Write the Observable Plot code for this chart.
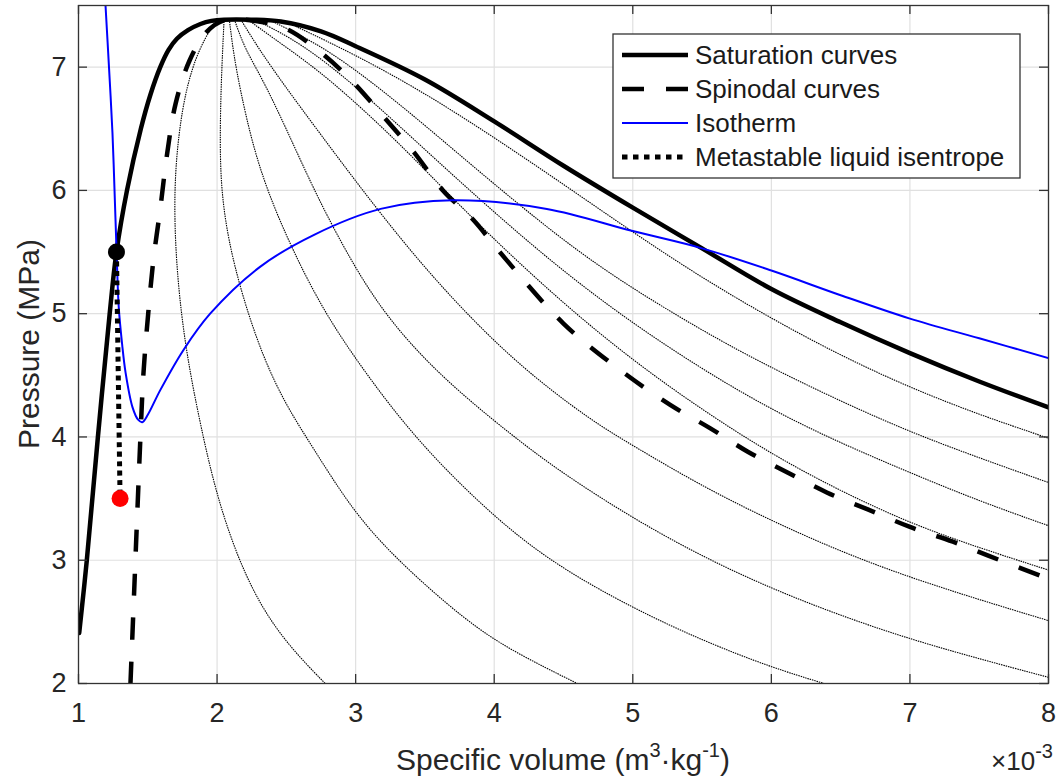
<!DOCTYPE html>
<html><head><meta charset="utf-8">
<script src="https://cdn.jsdelivr.net/npm/d3@7"></script>
<script src="https://cdn.jsdelivr.net/npm/@observablehq/plot@0.6"></script>
<style>
body{margin:0;background:#fff;}
</style></head><body><div id="chart"></div>
<script>
// ---------- data (specific volume in 1e-3 m3/kg, pressure in MPa) ----------
const xTicks = [1, 2, 3, 4, 5, 6, 7, 8];
const yTicks = [2, 3, 4, 5, 6, 7];

const satV = [1.005, 1.06, 1.14, 1.225, 1.274, 1.35, 1.45, 1.52, 1.59, 1.65, 1.71, 1.79, 1.88, 1.96, 2.05, 2.25, 2.46, 2.75, 3.0, 3.5, 4.0, 4.5, 5.0, 5.5, 6.0, 6.5, 7.0, 7.5, 8.0];
const satP = [2.41, 3.0, 4.0, 5.0, 5.5, 6.0, 6.5, 6.78, 7.0, 7.14, 7.23, 7.30, 7.35, 7.375, 7.385, 7.385, 7.37, 7.29, 7.17, 6.9, 6.56, 6.2, 5.86, 5.53, 5.2, 4.93, 4.68, 4.45, 4.24];

const spinV = [1.375, 1.40, 1.426, 1.447, 1.469, 1.503, 1.541, 1.59, 1.64, 1.70, 1.80, 1.92, 2.05, 2.3, 2.5, 2.77, 2.98, 3.2, 3.42, 3.63, 3.85, 4.04, 4.5, 4.9, 5.27, 5.56, 5.83, 6.12, 6.4, 6.7, 7.0, 7.31, 7.65, 8.0];
const spinP = [2.0, 2.7, 3.43, 4.0, 4.52, 5.0, 5.44, 5.85, 6.3, 6.7, 7.05, 7.28, 7.38, 7.37, 7.31, 7.1, 6.88, 6.6, 6.31, 6.0, 5.76, 5.5, 4.92, 4.55, 4.26, 4.07, 3.88, 3.71, 3.55, 3.41, 3.27, 3.15, 3.0, 2.85];

const isoV = [1.195, 1.22, 1.245, 1.26, 1.275, 1.29, 1.315, 1.34, 1.39, 1.43, 1.46, 1.50, 1.59, 1.76, 1.95, 2.31, 2.7, 3.18, 3.7, 4.38, 5.0, 5.5, 6.0, 6.5, 7.0, 7.5, 8.0];
const isoP = [7.5, 7.0, 6.47, 6.0, 5.5, 5.06, 4.75, 4.52, 4.24, 4.14, 4.12, 4.18, 4.38, 4.71, 5.0, 5.38, 5.64, 5.85, 5.92, 5.85, 5.67, 5.53, 5.35, 5.15, 4.96, 4.8, 4.64];

const metaV = [1.274, 1.287, 1.30];
const metaP = [5.5, 4.5, 3.5];

const stateV = [1.274, 1.30];
const stateP = [5.5, 3.5];
const stateColor = ["black", "red"];

const isen1 = [[1.97,7.34],[1.87,7.15],[1.78,6.85],[1.72,6.45],[1.69,6.0],[1.70,5.5],[1.74,5.0],[1.80,4.55],[1.88,4.1],[1.98,3.6],[2.12,3.1],[2.3,2.65],[2.52,2.3],[2.78,2.0]];
const isen2 = [[2.05,7.37],[2.03,6.9],[2.02,6.4],[2.03,6.0],[2.08,5.6],[2.18,5.15],[2.33,4.65],[2.5,4.25],[2.7,3.9],[2.95,3.45],[3.25,3.05],[3.8,2.5],[4.15,2.25],[4.6,2.0]];
const isen3 = [[2.09,7.37],[2.12,7.1],[2.17,6.8],[2.25,6.4],[2.36,6.0],[2.55,5.5],[2.78,5.0],[3.05,4.55],[3.42,4.0],[3.9,3.45],[4.38,3.0],[5.0,2.61],[5.5,2.35],[6.0,2.13],[6.38,2.0]];
const isen4 = [[2.13,7.37],[2.2,7.15],[2.33,6.9],[2.5,6.5],[2.70,6.0],[2.93,5.5],[3.2,5.0],[3.6,4.5],[4.14,4.0],[4.5,3.7],[5.0,3.34],[5.5,3.03],[6.0,2.77],[6.5,2.55],[7.0,2.36],[7.5,2.2],[8.0,2.05]];
const isen5 = [[2.18,7.37],[2.3,7.15],[2.48,6.86],[2.75,6.45],[3.05,6.0],[3.4,5.5],[3.78,5.02],[4.2,4.56],[4.69,4.14],[5.0,3.93],[5.5,3.6],[6.0,3.32],[6.5,3.07],[7.0,2.86],[7.5,2.68],[8.0,2.51]];
const isen6 = [[2.24,7.37],[2.45,7.2],[2.8,6.92],[3.3,6.4],[3.6,6.05],[4.0,5.6],[4.5,5.08],[5.0,4.62],[5.5,4.22],[6.0,3.86],[6.5,3.56],[7.0,3.3],[7.5,3.1],[8.0,2.92]];
const isen7 = [[2.3,7.37],[2.6,7.2],[3.0,6.85],[3.5,6.33],[4.0,5.82],[4.5,5.34],[5.0,4.92],[5.5,4.55],[6.0,4.22],[6.5,3.95],[7.0,3.71],[7.5,3.48],[8.0,3.28]];
const isen8 = [[2.4,7.37],[2.8,7.15],[3.3,6.72],[3.8,6.24],[4.3,5.77],[4.8,5.34],[5.5,4.86],[6.0,4.56],[6.5,4.29],[7.0,4.04],[7.5,3.83],[8.0,3.63]];
const isen9 = [[2.55,7.34],[3.0,7.1],[3.5,6.79],[4.0,6.43],[4.5,6.05],[5.0,5.66],[5.5,5.29],[6.0,4.96],[6.5,4.66],[7.0,4.40],[7.5,4.18],[8.0,3.99]];

const legendLabels = ["Saturation curves", "Spinodal curves", "Isotherm", "Metastable liquid isentrope"];
const xLabel = ["Specific volume (m", "3", "\u00b7kg", "-1", ")"];
const yLabel = "Pressure (MPa)";
const xExponent = ["\u00d710", "-3"];

// ---------- build tables ----------
const pairs = (V, P) => V.map((v, i) => ({v, p: P[i]}));
const satRows = pairs(satV, satP);
const spinRows = pairs(spinV, spinP);
const isoRows = pairs(isoV, isoP);
const metaRows = pairs(metaV, metaP);
const stateRows = stateV.map((v, i) => ({v, p: stateP[i], c: stateColor[i]}));
const isenRows = [isen1, isen2, isen3, isen4, isen5, isen6, isen7, isen8, isen9]
  .flatMap((s, k) => s.map(([v, p]) => ({v, p, id: k})));

// ---------- layout ----------
const W = 1060, H = 783, mL = 78, mR = 12, mT = 5, mB = 100;
const pw = W - mL - mR, ph = H - mT - mB, tk = 9;
const axisColor = "#333333";
const FONT = "'Liberation Sans', Arial, Helvetica, sans-serif";

const plot = Plot.plot({
  width: W, height: H,
  marginLeft: mL, marginRight: mR, marginTop: mT, marginBottom: mB,
  x: {domain: [1, 8]},
  y: {domain: [2, 7.5]},
  style: {fontFamily: FONT, background: "white", color: "#262626"},
  marks: [
    Plot.gridX(xTicks, {stroke: "#e0e0e0", strokeOpacity: 1, strokeWidth: 1.2}),
    Plot.gridY(yTicks, {stroke: "#e0e0e0", strokeOpacity: 1, strokeWidth: 1.2}),
    Plot.line(isenRows, {x: "v", y: "p", z: "id", stroke: "#000", strokeWidth: 1.1, strokeDasharray: "1.5,0.9", strokeLinecap: "butt", curve: "basis", clip: true}),
    Plot.line(spinRows, {x: "v", y: "p", stroke: "black", strokeWidth: 4.5, strokeDasharray: "22,22", strokeLinecap: "butt", curve: "catmull-rom", clip: true}),
    Plot.line(satRows, {x: "v", y: "p", stroke: "black", strokeWidth: 4.5, curve: "catmull-rom", clip: true}),
    Plot.line(isoRows, {x: "v", y: "p", stroke: "#0000ff", strokeWidth: 2, curve: "catmull-rom", clip: true}),
    Plot.line(metaRows, {x: "v", y: "p", stroke: "black", strokeWidth: 5, strokeDasharray: "5,4.5", strokeLinecap: "butt", curve: "catmull-rom"}),
    Plot.dot(stateRows, {x: "v", y: "p", fill: "c", r: 8.5, stroke: null}),
    Plot.frame({stroke: axisColor, strokeWidth: 1.3}),
    Plot.tickX(xTicks, {x: d => d, stroke: axisColor, strokeWidth: 1.3, insetTop: ph - tk}),
    Plot.tickX(xTicks, {x: d => d, stroke: axisColor, strokeWidth: 1.3, insetBottom: ph - tk}),
    Plot.tickY(yTicks, {y: d => d, stroke: axisColor, strokeWidth: 1.3, insetRight: pw - tk}),
    Plot.tickY(yTicks, {y: d => d, stroke: axisColor, strokeWidth: 1.3, insetLeft: pw - tk}),
    Plot.axisX(xTicks, {tickSize: 0, tickPadding: 19, fontSize: 27, label: null, fill: "#262626", tickFormat: d => String(d)}),
    Plot.axisY(yTicks, {tickSize: 0, tickPadding: 12, fontSize: 27, label: null, fill: "#262626", tickFormat: d => String(d)})
  ]
});
document.getElementById("chart").appendChild(plot);

// ---------- labels & legend ----------
const svg = d3.select(plot);
const supSize = 20, labSize = 30;

const xl = svg.append("text").attr("x", mL + pw / 2).attr("y", 770)
  .attr("text-anchor", "middle").attr("font-family", FONT).attr("font-size", labSize).attr("fill", "#262626");
xl.append("tspan").text(xLabel[0]);
xl.append("tspan").attr("dy", -13).attr("font-size", supSize).text(xLabel[1]);
xl.append("tspan").attr("dy", 13).text(xLabel[2]);
xl.append("tspan").attr("dy", -13).attr("font-size", supSize).text(xLabel[3]);
xl.append("tspan").attr("dy", 13).text(xLabel[4]);

const xe = svg.append("text").attr("x", 1053).attr("y", 770)
  .attr("text-anchor", "end").attr("font-family", FONT).attr("font-size", 26).attr("fill", "#262626");
xe.append("tspan").text(xExponent[0]);
xe.append("tspan").attr("dy", -12).attr("font-size", supSize).text(xExponent[1]);

svg.append("text").attr("transform", `translate(28,${mT + ph / 2}) rotate(-90)`)
  .attr("text-anchor", "middle").attr("dy", "0.35em")
  .attr("font-family", FONT).attr("font-size", labSize).attr("fill", "#262626").text(yLabel);

// legend
const lg = svg.append("g").attr("transform", "translate(613,34)");
lg.append("rect").attr("width", 407).attr("height", 144).attr("fill", "white")
  .attr("stroke", "#333").attr("stroke-width", 1.3);
const legStyles = [
  {stroke: "black", w: 4.5, dash: null},
  {stroke: "black", w: 4.5, dash: "22,22"},
  {stroke: "#0000ff", w: 2, dash: null},
  {stroke: "black", w: 5, dash: "5.5,5.5"}
];
legendLabels.forEach((lab, i) => {
  const cy = 21 + i * 34;
  const st = legStyles[i];
  lg.append("line").attr("x1", 9).attr("x2", 75).attr("y1", cy).attr("y2", cy)
    .attr("stroke", st.stroke).attr("stroke-width", st.w)
    .attr("stroke-linecap", "butt")
    .attr("stroke-dasharray", st.dash);
  lg.append("text").attr("x", 82).attr("y", cy).attr("dy", "0.35em")
    .attr("text-anchor", "start")
    .attr("font-family", FONT).attr("font-size", 26).attr("fill", "#1a1a1a").text(lab);
});
</script>
</body></html>
